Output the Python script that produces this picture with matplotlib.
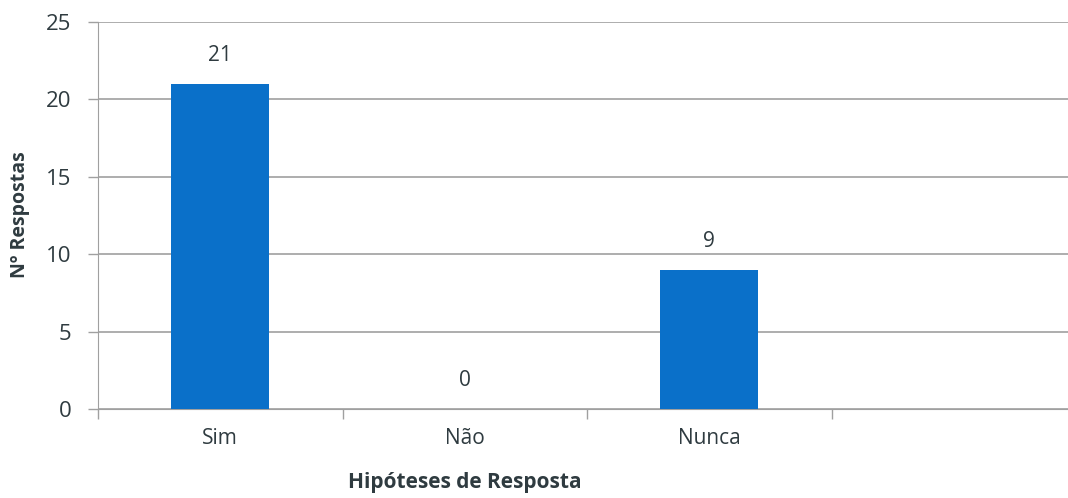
import matplotlib.pyplot as plt

# Dados do gráfico
categorias = ["Sim", "Não", "Nunca", ""]
respostas = [21, 0, 9, None]
yticks = [0, 5, 10, 15, 20, 25]

plt.rcParams['font.family'] = ['Open Sans', 'DejaVu Sans']
texto = '#2f3b40'
cinza = '#a0a0a0'

fig = plt.figure(figsize=(10.68, 4.98), dpi=100)
ax = fig.add_axes([98 / 1068, 1 - 409 / 498, (1076 - 98) / 1068, (409 - 22) / 498])

xs = list(range(len(categorias)))
vals = [v for v in respostas if v is not None]
bx = xs[:len(vals)]
ax.bar(bx, vals, width=0.4, color='#0a70c9', zorder=3)

for x, v in zip(bx, vals):
    ax.annotate(str(v), (x, v), xytext=(0, 13), textcoords='offset points',
                ha='center', va='bottom', fontsize=15, color=texto)

ax.set_xlim(-0.5, len(categorias) - 0.5)
ax.set_ylim(0, 25)
ax.set_yticks(yticks)
ax.tick_params(axis='y', labelsize=16, colors=cinza, labelcolor=texto, length=7, width=1, pad=12)
ax.set_xticks(xs)
ax.set_xticklabels(categorias)
ax.set_xticks([i - 0.5 for i in range(len(categorias) + 1)], minor=True)
ax.tick_params(axis='x', which='major', length=0, labelsize=15, labelcolor=texto, pad=14)
ax.tick_params(axis='x', which='minor', length=7, width=1, colors=cinza)

ax.yaxis.grid(True, color=cinza, linewidth=1.2, zorder=0)
for s in ['top', 'right']:
    ax.spines[s].set_visible(False)
ax.spines['left'].set_color(cinza)
ax.spines['bottom'].set_color(cinza)

fig.text(20 / 1068, 1 - 215 / 498, "Nº Respostas", rotation=90, ha='center', va='center',
         fontsize=14, fontweight='bold', color=texto)
fig.text(465 / 1068, 1 - 482 / 498, "Hipóteses de Resposta", ha='center', va='center',
         fontsize=15, fontweight='bold', color=texto)

fig.savefig('out.png', dpi=100)
